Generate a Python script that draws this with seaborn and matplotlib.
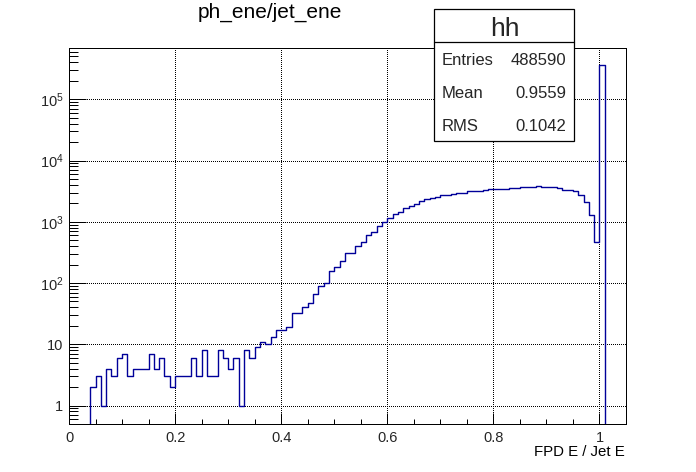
import numpy as np
import pandas as pd
import matplotlib
matplotlib.use("Agg")
import matplotlib.pyplot as plt
import seaborn as sns
from matplotlib.patches import Rectangle
from matplotlib.lines import Line2D
from matplotlib.ticker import FixedLocator, LogLocator, MultipleLocator, NullFormatter, FixedFormatter

# ---------------- data ----------------
hist_name = "hh"
title = "ph_ene/jet_ene"
x_label = "FPD E / Jet E"

x_min, x_max, n_bins = 0.0, 1.05, 105
counts = [
    0, 0, 0, 0, 2, 3, 1, 4, 3, 6,
    7, 3, 4, 4, 4, 7, 4, 6, 3, 2,
    3, 3, 3, 6, 3, 8, 3, 3, 8, 6,
    4, 6, 1, 8, 6, 9, 11, 10, 13, 17,
    17, 19, 32, 33, 41, 47, 67, 91, 101, 160,
    185, 231, 312, 315, 406, 466, 620, 688, 855, 1000,
    1160, 1340, 1450, 1690, 1830, 1960, 2170, 2340, 2460, 2580,
    2710, 2780, 2800, 2920, 2930, 3150, 3150, 3160, 3270, 3440,
    3440, 3450, 3440, 3530, 3530, 3710, 3710, 3710, 3850, 3710,
    3700, 3700, 3570, 3310, 3310, 3190, 2730, 2090, 1290, 470,
    367000, 0, 0, 0, 0,
]

x_ticks = [0.0, 0.2, 0.4, 0.6, 0.8, 1.0]
x_tick_labels = ["0", "0.2", "0.4", "0.6", "0.8", "1"]
y_ticks = [1, 10, 100, 1000, 10000, 100000]
y_tick_labels = ["1", "10", r"$\mathregular{10^{2}}$", r"$\mathregular{10^{3}}$",
                 r"$\mathregular{10^{4}}$", r"$\mathregular{10^{5}}$"]

stats_labels = ["Entries", "Mean", "RMS"]
stats_values = ["488590", "0.9559", "0.1042"]

# ---------------- style ----------------
sns.set_theme(style="white")
plt.rcParams["font.family"] = ["Liberation Sans", "DejaVu Sans"]
plt.rcParams["mathtext.fontset"] = "custom"
plt.rcParams["mathtext.rm"] = "Liberation Sans"

W, H = 696, 472
fig = plt.figure(figsize=(W / 100, H / 100), dpi=100)
fig.patch.set_facecolor("white")

def fx(px):
    return px / W

def fy(py):
    return 1 - py / H

L, R, T, B = 69, 626, 47.5, 424
ax = fig.add_axes([fx(L), fy(B), fx(R - L), (B - T) / H])
ax.set_facecolor("white")

edges = np.linspace(x_min, x_max, n_bins + 1)
centers = (edges[:-1] + edges[1:]) / 2
df = pd.DataFrame({"x": centers, "n": counts})

sns.histplot(data=df, x="x", weights="n", bins=n_bins, binrange=(x_min, x_max),
             element="step", fill=False, color="#000099", linewidth=1.0, ax=ax, zorder=3)

ax.set_yscale("log")
ax.set_xlim(x_min, x_max)
ax.set_ylim(0.5, 7.0e5)
ax.set_xlabel("")
ax.set_ylabel("")

ax.xaxis.set_major_locator(FixedLocator(x_ticks))
ax.xaxis.set_major_formatter(FixedFormatter(x_tick_labels))
ax.xaxis.set_minor_locator(MultipleLocator(0.05))
ax.yaxis.set_major_locator(FixedLocator(y_ticks))
ax.yaxis.set_major_formatter(FixedFormatter(y_tick_labels))
ax.yaxis.set_minor_locator(LogLocator(base=10, subs=np.arange(2, 10), numticks=20))
ax.yaxis.set_minor_formatter(NullFormatter())

ax.tick_params(axis="x", which="major", direction="in", length=7.6, width=0.72,
               color="black", labelsize=10.5, pad=5, bottom=True, top=False)
ax.tick_params(axis="x", which="minor", direction="in", length=3.8, width=0.72,
               color="black", bottom=True, top=False)
ax.tick_params(axis="y", which="major", direction="in", length=12.5, width=0.72,
               color="black", labelsize=10.5, pad=4, left=True, right=False)
ax.tick_params(axis="y", which="minor", direction="in", length=6.3, width=0.72,
               color="black", left=True, right=False)

ax.grid(True, which="major", color="black", linestyle=(0, (1, 2)), linewidth=0.72)
ax.grid(False, which="minor")
for gl in ax.get_xgridlines() + ax.get_ygridlines():
    gl.set_antialiased(False)
for s in ax.spines.values():
    s.set_visible(True)
    s.set_color("black")
    s.set_linewidth(0.72)
    s.set_zorder(4)

# title and x label
fig.text(fx(270), fy(17.3), title, ha="center", va="baseline", fontsize=15, color="black")
fig.text(fx(625), fy(456), x_label, ha="right", va="baseline", fontsize=10.8, color="black")

# stats box
bx0, bx1, by0, by1, bdiv = 434.3, 574.3, 9.3, 141.0, 42.3
fig.add_artist(Rectangle((fx(bx0), fy(by1)), fx(bx1 - bx0), (by1 - by0) / H,
                         transform=fig.transFigure, facecolor="white", edgecolor="black",
                         linewidth=0.9, zorder=10))
fig.add_artist(Line2D([fx(bx0), fx(bx1)], [fy(bdiv), fy(bdiv)], transform=fig.transFigure,
                      color="black", linewidth=0.9, zorder=11))
fig.text(fx(505), fy(36), hist_name, ha="center", va="baseline", fontsize=19, zorder=12)
row_baselines = [65, 98.3, 130.7]
for lab, val, yb in zip(stats_labels, stats_values, row_baselines):
    fig.text(fx(441.7), fy(yb), lab, ha="left", va="baseline", fontsize=12, zorder=12)
    fig.text(fx(566.7), fy(yb), val, ha="right", va="baseline", fontsize=12, zorder=12)

fig.savefig("out.png", dpi=100, facecolor="white")
